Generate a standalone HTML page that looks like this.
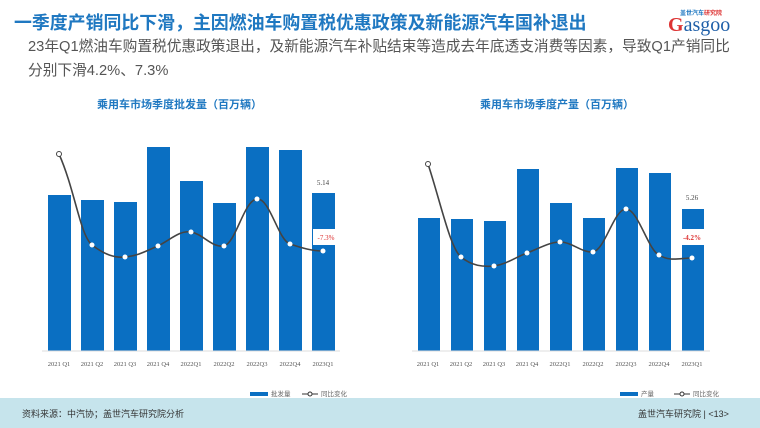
<!DOCTYPE html>
<html><head><meta charset="utf-8"><style>
body{margin:0;width:760px;height:428px;background:#fff;overflow:hidden;position:relative;font-family:"Liberation Sans","Noto Sans CJK SC",sans-serif}
.t{position:absolute;white-space:nowrap}
</style></head><body>
<div class="t" style="left:14px;top:9px;font-size:17.9px;font-weight:bold;color:#1f78c1">一季度产销同比下滑，主因燃油车购置税优惠政策及新能源汽车国补退出</div>
<div class="t" style="left:680px;top:8px;font-size:6px;color:#1f78c1;font-weight:bold">盖世汽车<span style="color:#d33">研究院</span></div>
<div class="t" style="left:668px;top:14px;font-size:20px;color:#1f5fa8;font-family:'Liberation Serif',serif"><span style="color:#d33;font-weight:bold">G</span>asgoo</div>
<div class="t" style="left:28px;top:35px;font-size:14.7px;color:#555;line-height:24px">23年Q1燃油车购置税优惠政策退出，及新能源汽车补贴结束等造成去年底透支消费等因素，导致Q1产销同比<br>分别下滑4.2%、7.3%</div>
<div class="t" style="left:97px;top:96px;font-size:11px;font-weight:bold;color:#1f78c1">乘用车市场季度批发量（百万辆）</div>
<div class="t" style="left:480px;top:96px;font-size:11px;font-weight:bold;color:#1f78c1">乘用车市场季度产量（百万辆）</div>
<svg width="760" height="428" style="position:absolute;left:0;top:0" font-family="Liberation Serif,serif">
<g fill="#0a6fc2">
<rect x="48" y="195" width="23" height="156"/><rect x="81" y="200" width="23" height="151"/><rect x="114" y="202" width="23" height="149"/><rect x="147" y="147" width="23" height="204"/><rect x="180" y="181" width="23" height="170"/><rect x="213" y="203" width="23" height="148"/><rect x="246" y="147" width="23" height="204"/><rect x="279" y="150" width="23" height="201"/><rect x="312" y="193" width="23" height="158"/>
<rect x="418" y="218" width="22" height="133"/><rect x="451" y="219" width="22" height="132"/><rect x="484" y="221" width="22" height="130"/><rect x="517" y="169" width="22" height="182"/><rect x="550" y="203" width="22" height="148"/><rect x="583" y="218" width="22" height="133"/><rect x="616" y="168" width="22" height="183"/><rect x="649" y="173" width="22" height="178"/><rect x="682" y="209" width="22" height="142"/>
</g>
<line x1="42" y1="351" x2="340" y2="351" stroke="#ddd"/><line x1="412" y1="351" x2="710" y2="351" stroke="#ddd"/>
<path d="M59,154 C75,190 80,235 92,245 C105,255 115,258 125,257 C138,256 148,250 158,246 C170,240 180,230 191,232 C203,234 212,248 224,246 C236,243 244,200 257,199 C270,198 278,240 290,244 C302,248 312,251 323,251" fill="none" stroke="#444" stroke-width="1.6"/>
<path d="M428,164 C440,200 450,248 461,257 C472,266 483,267 494,266 C507,264 516,257 527,253 C540,248 550,242 560,242 C572,242 582,253 593,252 C605,250 614,209 626,209 C638,209 648,250 659,255 C670,262 680,258 692,258" fill="none" stroke="#444" stroke-width="1.6"/>
<g fill="#fff" stroke="#444" stroke-width="1">
<circle cx="59" cy="154" r="2.5"/><circle cx="428" cy="164" r="2.5"/></g>
<g fill="#fff"><circle cx="92" cy="245" r="2.5"/><circle cx="125" cy="257" r="2.5"/><circle cx="158" cy="246" r="2.5"/><circle cx="191" cy="232" r="2.5"/><circle cx="224" cy="246" r="2.5"/><circle cx="257" cy="199" r="2.5"/><circle cx="290" cy="244" r="2.5"/><circle cx="323" cy="251" r="2.5"/>
<circle cx="461" cy="257" r="2.5"/><circle cx="494" cy="266" r="2.5"/><circle cx="527" cy="253" r="2.5"/><circle cx="560" cy="242" r="2.5"/><circle cx="593" cy="252" r="2.5"/><circle cx="626" cy="209" r="2.5"/><circle cx="659" cy="255" r="2.5"/><circle cx="692" cy="258" r="2.5"/>
<rect x="313" y="229" width="26" height="16"/><rect x="679" y="229" width="26" height="16"/></g>
<g font-size="7" fill="#444" text-anchor="middle">
<text x="323" y="185">5.14</text><text x="692" y="200">5.26</text>
<text x="326" y="240" fill="#d33">-7.3%</text><text x="692" y="240" fill="#d33" font-weight="bold">-4.2%</text>
<g font-size="6.5" fill="#555">
<text x="59" y="366">2021 Q1</text><text x="92" y="366">2021 Q2</text><text x="125" y="366">2021 Q3</text><text x="158" y="366">2021 Q4</text><text x="191" y="366">2022Q1</text><text x="224" y="366">2022Q2</text><text x="257" y="366">2022Q3</text><text x="290" y="366">2022Q4</text><text x="323" y="366">2023Q1</text>
<text x="428" y="366">2021 Q1</text><text x="461" y="366">2021 Q2</text><text x="494" y="366">2021 Q3</text><text x="527" y="366">2021 Q4</text><text x="560" y="366">2022Q1</text><text x="593" y="366">2022Q2</text><text x="626" y="366">2022Q3</text><text x="659" y="366">2022Q4</text><text x="692" y="366">2023Q1</text></g></g>
<g font-size="6.5" fill="#666" font-family="Liberation Sans,Noto Sans CJK SC,sans-serif">
<rect x="250" y="392" width="18" height="4" fill="#0a6fc2"/><text x="271" y="396">批发量</text>
<line x1="302" y1="394" x2="318" y2="394" stroke="#333"/><circle cx="310" cy="394" r="2" fill="#fff" stroke="#333"/><text x="321" y="396">同比变化</text>
<rect x="620" y="392" width="18" height="4" fill="#0a6fc2"/><text x="641" y="396">产量</text>
<line x1="674" y1="394" x2="690" y2="394" stroke="#333"/><circle cx="682" cy="394" r="2" fill="#fff" stroke="#333"/><text x="693" y="396">同比变化</text></g>
</svg>
<div style="position:absolute;left:0;top:398px;width:760px;height:30px;background:#c6e4ec"></div>
<div class="t" style="left:22px;top:407px;font-size:9px;color:#333">资料来源：中汽协；盖世汽车研究院分析</div>
<div class="t" style="left:638px;top:407px;font-size:9px;color:#333">盖世汽车研究院 | &lt;13&gt;</div>
</body></html>
